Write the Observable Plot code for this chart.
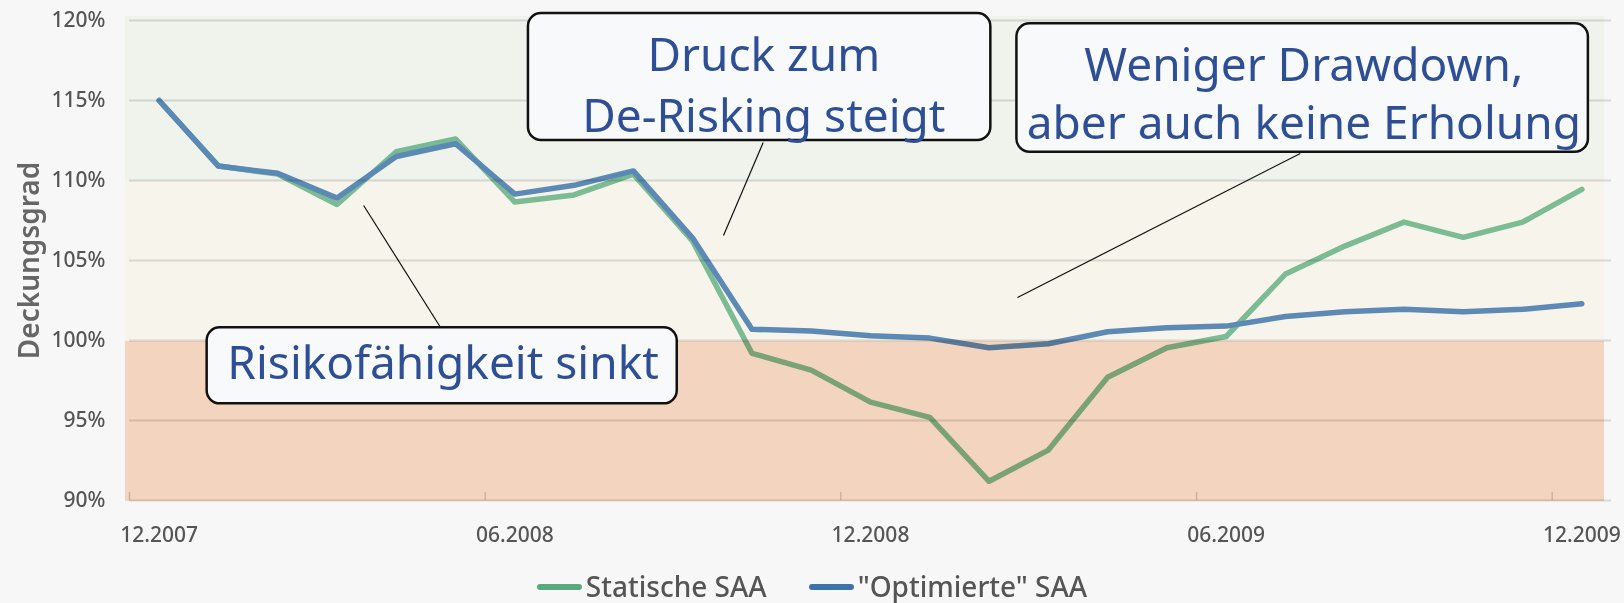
<!DOCTYPE html>
<html><head><meta charset="utf-8">
<script src="https://cdn.jsdelivr.net/npm/d3@7"></script>
<script src="https://cdn.jsdelivr.net/npm/@observablehq/plot@0.6"></script>
<style>
html,body{margin:0;padding:0;background:#f7f7f7;overflow:hidden;}
#legend{display:flex;justify-content:center;align-items:center;gap:42px;height:33px;font-family:"Noto Sans",sans-serif;font-size:28px;line-height:33px;color:#555;font-weight:500;}
#legend .item{display:flex;align-items:center;gap:4px;}
#legend .sw{display:inline-block;width:45px;height:6px;border-radius:3px;}
</style></head><body>
<div id="chart"></div><div id="legend"></div>
<script>
// ---- data ----
const months = ["12.2007","01.2008","02.2008","03.2008","04.2008","05.2008","06.2008","07.2008","08.2008","09.2008","10.2008","11.2008","12.2008","01.2009","02.2009","03.2009","04.2009","05.2009","06.2009","07.2009","08.2009","09.2009","10.2009","11.2009","12.2009"];
const statische = [115.0,110.9,110.4,108.5,111.8,112.6,108.65,109.1,110.4,106.2,99.2,98.15,96.15,95.2,91.2,93.15,97.7,99.55,100.25,104.15,105.9,107.4,106.45,107.4,109.45];
const optimierte = [115.0,110.9,110.45,108.9,111.5,112.3,109.15,109.7,110.6,106.4,100.7,100.6,100.3,100.15,99.55,99.8,100.55,100.8,100.9,101.5,101.8,101.95,101.8,101.95,102.3];
const seriesNames = ["Statische SAA", "\"Optimierte\" SAA"];
const tickMonths = ["12.2007","06.2008","12.2008","06.2009","12.2009"];
const yTicks = [90,95,100,105,110,115,120];
const zoneBounds = [90,100,110,120];
const yLabel = "Deckungsgrad";
const noteLines = [["Druck zum","De-Risking steigt"],["Weniger Drawdown,","aber auch keine Erholung"],["Risikofähigkeit sinkt"]];
// annotation anchors in data units (month index, percent)
const noteBoxX = [[6.23,14.03],[14.47,24.11],[0.81,8.74]];
const noteBoxY = [[112.5,120.44],[111.77,119.79],[96.04,100.79]];
const noteTextX = [10.2,19.31,4.79];
const noteBaselines = [[116.875,113.02],[116.21,112.61],[97.61]];
const pointerFrom = [[10.19,112.375],[19.25,111.69],[4.75,100.8]];
const pointerTo = [[9.52,106.56],[14.48,102.69],[3.45,108.44]];

// ---- tables ----
const rows = [];
seriesNames.forEach((s, k) => {
  const vals = k === 0 ? statische : optimierte;
  months.forEach((m, i) => rows.push({i, month: m, series: s, value: vals[i]}));
});
const tickIdx = tickMonths.map(m => months.indexOf(m));
const zones = zoneBounds.slice(0, -1).map((lo, k) => ({lo, hi: zoneBounds[k + 1], k}));
const zoneFills = ["#f3d4be", "#f7f5eb", "#f0f3ec"];
const boxes = noteBoxX.map((bx, k) => ({x1: bx[0], x2: bx[1], y1: noteBoxY[k][0], y2: noteBoxY[k][1]}));
const texts = noteLines.flatMap((ls, k) => ls.map((t, j) => ({text: t, x: noteTextX[k], y: noteBaselines[k][j]})));
const pointers = pointerFrom.map((p, k) => ({x1: p[0], y1: p[1], x2: pointerTo[k][0], y2: pointerTo[k][1]}));

const W = 1624, H = 570;
const chart = Plot.plot({
  width: W, height: H,
  marginLeft: 129, marginRight: 13, marginTop: 20, marginBottom: 70,
  style: {background: "transparent", fontFamily: "Noto Sans, sans-serif", fontSize: "21px", color: "#595959"},
  x: {domain: [-0.5, months.length - 0.5], axis: null},
  y: {domain: [90, 120], axis: null},
  color: {domain: seriesNames, range: ["#80c3a0", "#5f90c4"]},
  marks: [
    Plot.rect(zones, {y1: "lo", y2: "hi", fill: d => zoneFills[d.k], insetLeft: -4, insetRight: 7, insetTop: -4, insetBottom: -1}),
    Plot.ruleY(yTicks, {stroke: "#e0e0e0", strokeWidth: 2, mixBlendMode: "multiply"}),
    Plot.ruleX(tickIdx, {x: d => d - 0.5, insetTop: 472, stroke: "#d6d6d6", strokeWidth: 1.5, mixBlendMode: "multiply"}),
    Plot.axisY({ticks: yTicks, tickSize: 0, tickPadding: 24, tickFormat: d => d + "%", fontSize: 21, fontWeight: 500, fill: "#555"}),
    Plot.axisX({ticks: tickIdx, tickSize: 0, tickPadding: 27, tickFormat: i => months[i], fontSize: 21, fontWeight: 500, fill: "#555"}),
    Plot.text([yLabel], {frameAnchor: "left", textAnchor: "middle", dx: -99, rotate: -90, fontSize: 28, fontWeight: 600, fill: "#666"}),
    Plot.line(rows, {x: "i", y: "value", z: "series", stroke: "series", strokeWidth: 5.5, strokeLinejoin: "round", strokeLinecap: "round"}),
    Plot.link(pointers, {x1: "x1", y1: "y1", x2: "x2", y2: "y2", stroke: "#111", strokeWidth: 1.2}),
    Plot.rect(boxes, {x1: "x1", x2: "x2", y1: "y1", y2: "y2", fill: "#f8f9fb", stroke: "#111", strokeWidth: 2.5, rx: 13}),
    Plot.text(texts, {x: "x", y: "y", text: "text", lineAnchor: "bottom", fontSize: 46, fill: "#2e4e96"})
  ]
});
d3.select(chart).selectAll('g[aria-label="line"]').style("mix-blend-mode", "multiply");
document.getElementById("chart").appendChild(chart);

const swatchColors = ["#5aaa7d", "#3c73aa"];
const legend = d3.select("#legend");
seriesNames.forEach((s, k) => {
  const it = legend.append("div").attr("class", "item");
  it.append("span").attr("class", "sw").style("background", swatchColors[k]);
  it.append("span").text(s);
});
</script>
</body></html>
